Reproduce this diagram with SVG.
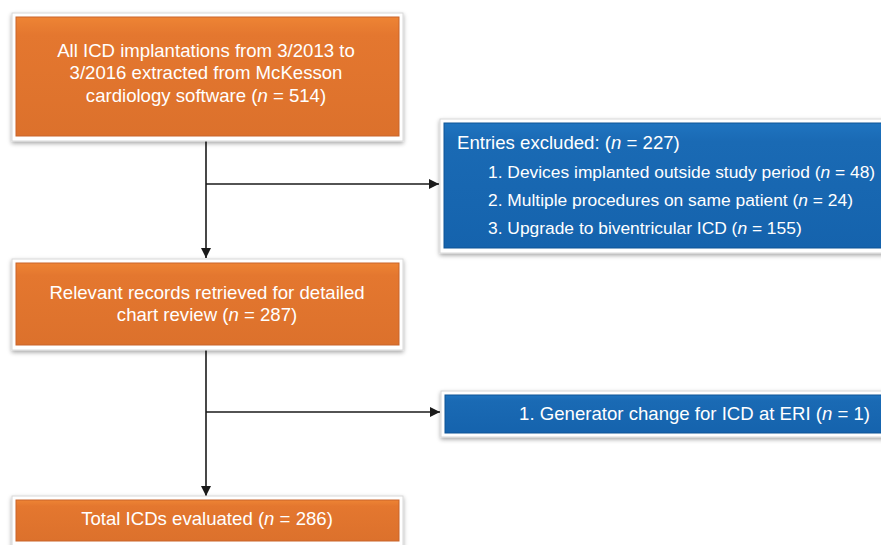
<svg xmlns="http://www.w3.org/2000/svg" width="881" height="545" viewBox="0 0 881 545">
<defs>
<linearGradient id="og" x1="0" y1="0" x2="0" y2="1">
<stop offset="0" stop-color="#EE8434"/>
<stop offset="0.15" stop-color="#E4772F"/>
<stop offset="1" stop-color="#DC712C"/>
</linearGradient>
<linearGradient id="bg" x1="0" y1="0" x2="0" y2="1">
<stop offset="0" stop-color="#1F74C0"/>
<stop offset="0.15" stop-color="#1A6AB4"/>
<stop offset="1" stop-color="#1563AD"/>
</linearGradient>
<filter id="sh" x="-5%" y="-10%" width="110%" height="125%">
<feDropShadow dx="0" dy="2" stdDeviation="2" flood-color="#000" flood-opacity="0.35"/>
</filter>
<marker id="ah" viewBox="0 0 10 10" refX="10" refY="5" markerWidth="10" markerHeight="10" markerUnits="userSpaceOnUse" orient="auto">
<path d="M0,0 L10,5 L0,10 z" fill="#1a1a1a"/>
</marker>
<style>
.frame{fill:#fff;stroke:#d8d8d8;stroke-width:1;filter:url(#sh)}
.or{fill:url(#og);stroke:#c9652a;stroke-width:1}
.bl{fill:url(#bg);stroke:#0f5596;stroke-width:1}
text{font-family:"Liberation Sans",Arial,sans-serif;fill:#fff;font-size:18.6px}
.c{text-anchor:middle}
.it{font-size:17.4px}
.ln{stroke:#1a1a1a;stroke-width:1.6;fill:none}
</style>
</defs>
<g id="connectors">
<path class="ln" d="M206,137 V258" marker-end="url(#ah)"/>
<path class="ln" d="M206,184 H439" marker-end="url(#ah)"/>
<path class="ln" d="M206,346 V496" marker-end="url(#ah)"/>
<path class="ln" d="M206,412 H440" marker-end="url(#ah)"/>
</g>
<g id="n1">
<rect class="frame" x="12" y="13" width="391" height="128"/>
<rect class="or" x="16" y="17" width="383" height="119"/>
<text class="c" x="206" y="56.5">All ICD implantations from 3/2013 to</text>
<text class="c" x="206" y="78.5">3/2016 extracted from McKesson</text>
<text class="c" x="206" y="101.5">cardiology software (<tspan font-style="italic">n</tspan> = 514)</text>
</g>
<g id="n2">
<rect class="frame" x="440" y="119" width="450" height="134"/>
<rect class="bl" x="444" y="123" width="446" height="125"/>
<text x="457" y="148.5">Entries excluded: (<tspan font-style="italic">n</tspan> = 227)</text>
<text class="it" x="488" y="178">1. Devices implanted outside study period (<tspan font-style="italic">n</tspan> = 48)</text>
<text class="it" x="488" y="206">2. Multiple procedures on same patient (<tspan font-style="italic">n</tspan> = 24)</text>
<text class="it" x="488" y="234">3. Upgrade to biventricular ICD (<tspan font-style="italic">n</tspan> = 155)</text>
</g>
<g id="n3">
<rect class="frame" x="12" y="259" width="391" height="91"/>
<rect class="or" x="16" y="263" width="383" height="82"/>
<text class="c" x="207" y="298.5">Relevant records retrieved for detailed</text>
<text class="c" x="207" y="320.5">chart review (<tspan font-style="italic">n</tspan> = 287)</text>
</g>
<g id="n4">
<rect class="frame" x="441" y="391" width="449" height="46"/>
<rect class="bl" x="445" y="395" width="445" height="38"/>
<text x="870" y="419.5" text-anchor="end">1. Generator change for ICD at ERI (<tspan font-style="italic">n</tspan> = 1)</text>
</g>
<g id="n5">
<rect class="frame" x="12" y="496" width="391" height="56"/>
<rect class="or" x="16" y="500" width="383" height="41"/>
<text class="c" x="207" y="524.5">Total ICDs evaluated (<tspan font-style="italic">n</tspan> = 286)</text>
</g>
</svg>
